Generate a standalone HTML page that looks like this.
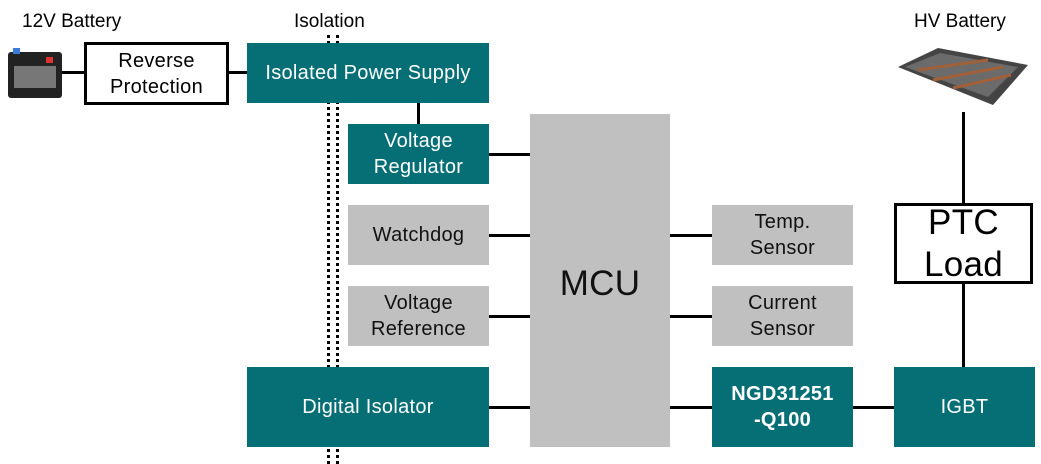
<!DOCTYPE html>
<html><head><style>
body{margin:0;width:1041px;height:464px;background:#fff;position:relative;overflow:hidden;font-family:"Liberation Sans",Arial,sans-serif}
.b{position:absolute;display:flex;align-items:center;justify-content:center;text-align:center;font-size:20px;line-height:26px;box-sizing:border-box;letter-spacing:0.3px}
.t{background:#066E75;color:#fff}
.g{background:#C0C0C0;color:#111}
.l{position:absolute;background:#000}
.lab{position:absolute;font-size:19px;color:#000}
</style></head><body>
<div class="lab" style="left:22px;top:11px">12V Battery</div>
<div class="lab" style="left:294px;top:11px">Isolation</div>
<div class="lab" style="left:914px;top:11px">HV Battery</div>
<div style="position:absolute;left:8px;top:52px;width:54px;height:46px;background:#222;border-radius:3px"></div>
<div style="position:absolute;left:14px;top:66px;width:42px;height:22px;background:#777"></div>
<div style="position:absolute;left:13px;top:48px;width:7px;height:6px;background:#3a7bd5"></div>
<div style="position:absolute;left:46px;top:57px;width:7px;height:6px;background:#d33"></div>
<svg style="position:absolute;left:893px;top:45px" width="140" height="65"><polygon points="5,22 45,3 135,20 100,60" fill="#444"/><polygon points="12,22 47,8 125,22 95,52" fill="#6b6b6b"/><line x1="25" y1="25" x2="95" y2="15" stroke="#a0603a" stroke-width="3"/><line x1="40" y1="35" x2="110" y2="22" stroke="#a0603a" stroke-width="3"/><line x1="60" y1="43" x2="118" y2="30" stroke="#a0603a" stroke-width="3"/></svg>
<div style="position:absolute;left:327px;top:35px;width:0;height:429px;border-left:3px dotted #000"></div>
<div style="position:absolute;left:336px;top:35px;width:0;height:429px;border-left:3px dotted #000"></div>
<div class="l" style="left:62px;top:71px;width:24px;height:3px"></div>
<div class="l" style="left:228px;top:71px;width:20px;height:3px"></div>
<div class="l" style="left:417px;top:103px;width:3px;height:21px"></div>
<div class="l" style="left:489px;top:153px;width:41px;height:3px"></div>
<div class="l" style="left:489px;top:234px;width:41px;height:3px"></div>
<div class="l" style="left:489px;top:315px;width:41px;height:3px"></div>
<div class="l" style="left:489px;top:406px;width:41px;height:3px"></div>
<div class="l" style="left:670px;top:234px;width:42px;height:3px"></div>
<div class="l" style="left:670px;top:315px;width:42px;height:3px"></div>
<div class="l" style="left:670px;top:406px;width:42px;height:3px"></div>
<div class="l" style="left:853px;top:406px;width:41px;height:3px"></div>
<div class="l" style="left:962px;top:112px;width:3px;height:92px"></div>
<div class="l" style="left:962px;top:283px;width:3px;height:84px"></div>
<div class="b" style="left:84px;top:42px;width:145px;height:63px;border:3px solid #000">Reverse<br>Protection</div>
<div class="b t" style="left:247px;top:43px;width:242px;height:60px">Isolated Power Supply</div>
<div class="b t" style="left:348px;top:124px;width:141px;height:60px">Voltage<br>Regulator</div>
<div class="b g" style="left:348px;top:205px;width:141px;height:60px">Watchdog</div>
<div class="b g" style="left:348px;top:286px;width:141px;height:60px">Voltage<br>Reference</div>
<div class="b t" style="left:247px;top:367px;width:242px;height:80px">Digital Isolator</div>
<div class="b g" style="left:530px;top:114px;width:140px;height:333px;font-size:35px;align-items:flex-start;padding-top:150px;line-height:40px">MCU</div>
<div class="b g" style="left:712px;top:205px;width:141px;height:60px">Temp.<br>Sensor</div>
<div class="b g" style="left:712px;top:286px;width:141px;height:60px">Current<br>Sensor</div>
<div class="b t" style="left:712px;top:367px;width:141px;height:80px;font-weight:bold">NGD31251<br>-Q100</div>
<div class="b t" style="left:894px;top:367px;width:141px;height:80px">IGBT</div>
<div class="b" style="left:894px;top:203px;width:139px;height:81px;border:3px solid #000;font-size:35px;line-height:42px">PTC<br>Load</div>
</body></html>
